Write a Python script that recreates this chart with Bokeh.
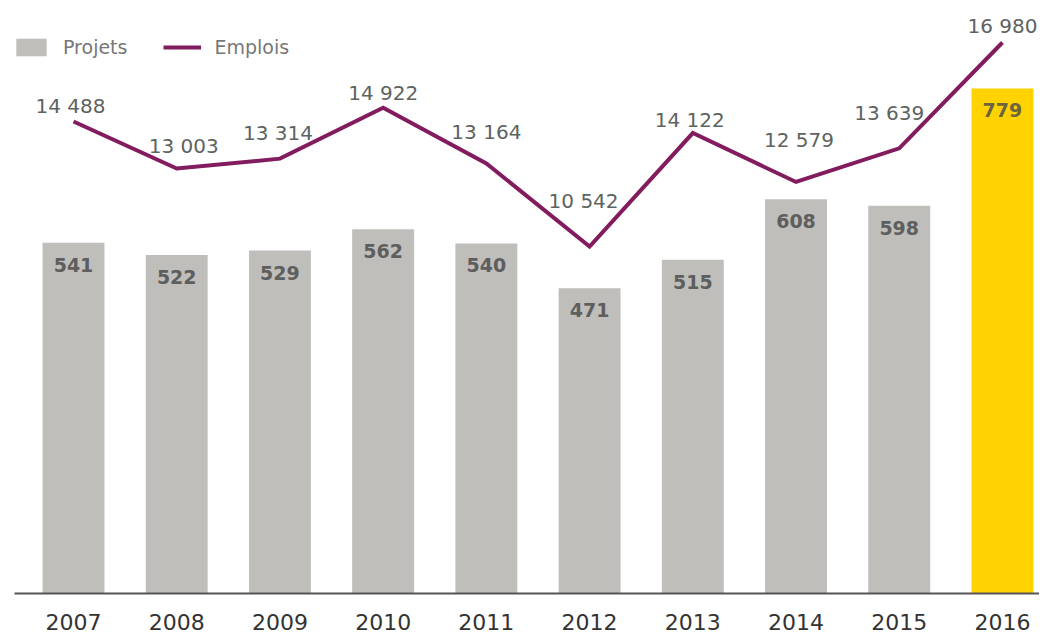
from bokeh.plotting import figure
from bokeh.models import Range1d, FixedTicker, Legend, LegendItem, ColumnDataSource
from bokeh.core.properties import value
from bokeh.embed import file_html
from bokeh.resources import INLINE

# ---- data ----
years = ["2007", "2008", "2009", "2010", "2011", "2012", "2013", "2014", "2015", "2016"]
projets = [541, 522, 529, 562, 540, 471, 515, 608, 598, 779]
emplois = [14488, 13003, 13314, 14922, 13164, 10542, 14122, 12579, 13639, 16980]
emplois_labels = ["14 488", "13 003", "13 314", "14 922", "13 164", "10 542", "14 122", "12 579", "13 639", "16 980"]
projets_labels = [str(v) for v in projets]

# ---- styling ----
GRAY = "#bfbebb"
YELLOW = "#ffd200"
PURPLE = "#821c5f"
bar_colors = [GRAY] * 9 + [YELLOW]
bar_label_colors = ["#5e5e5e"] * 9 + ["#6a6440"]
# pixel offsets of the Emplois labels relative to their points (layout only)
emp_dx = [-3, 7, -2, 0, 0, -6, -3, 3, -10, 0]
emp_dy = [-15, -23, -26, -15, -31, -46, -13, -42, -35, -17]

xs = list(range(len(years)))
FONT = "DejaVu Sans"

p = figure(width=1039, height=633,
           x_range=Range1d(-0.5716, 9.359), y_range=Range1d(0, 899.3),
           output_backend="svg", toolbar_location=None, y_axis_location=None,
           min_border_left=14, min_border_right=0, min_border_top=10, min_border_bottom=40)
p.outline_line_color = None
p.xgrid.visible = False
p.ygrid.visible = False
p.background_fill_color = "white"
p.border_fill_color = "white"

p.extra_y_ranges = {"emp": Range1d(-409, 17990)}

bar_src = ColumnDataSource(dict(x=xs, top=projets, color=bar_colors,
                                lab=projets_labels, lab_color=bar_label_colors))
bars = p.vbar(x="x", top="top", width=0.6, fill_color="color", line_color=None, source=bar_src)

p.text(x="x", y="top", text="lab", source=bar_src, text_align="center", text_baseline="middle",
       y_offset=22, text_font=value(FONT), text_font_size="19px", text_font_style="bold",
       text_color="lab_color")

emp_src = ColumnDataSource(dict(x=xs, y=emplois, lab=emplois_labels, dx=emp_dx, dy=emp_dy))
line = p.line(x="x", y="y", source=emp_src, y_range_name="emp", line_color=PURPLE,
              line_width=4, line_join="miter")
p.text(x="x", y="y", text="lab", source=emp_src, y_range_name="emp", x_offset="dx", y_offset="dy",
       text_align="center", text_baseline="middle", text_font=value(FONT),
       text_font_size="20px", text_color="#5d6360")

ax = p.xaxis[0]
ax.ticker = FixedTicker(ticks=xs)
ax.major_label_overrides = {i: y for i, y in enumerate(years)}
ax.axis_line_color = "#555555"
ax.axis_line_width = 2
ax.major_tick_line_color = None
ax.minor_tick_line_color = None
ax.major_label_text_font = FONT
ax.major_label_text_font_size = "22px"
ax.major_label_text_color = "#333333"
ax.major_label_standoff = 14

legend = Legend(items=[LegendItem(label="Projets", renderers=[bars], index=0),
                       LegendItem(label="Emplois", renderers=[line])],
                orientation="horizontal", location=(-2, 535),
                glyph_width=38, glyph_height=22, label_standoff=13, spacing=36,
                padding=0, margin=0, border_line_color=None, background_fill_alpha=0,
                label_text_font=FONT, label_text_font_size="19px", label_text_color="#777777")
p.add_layout(legend)

open("out.html", "w").write(file_html(p, INLINE))
